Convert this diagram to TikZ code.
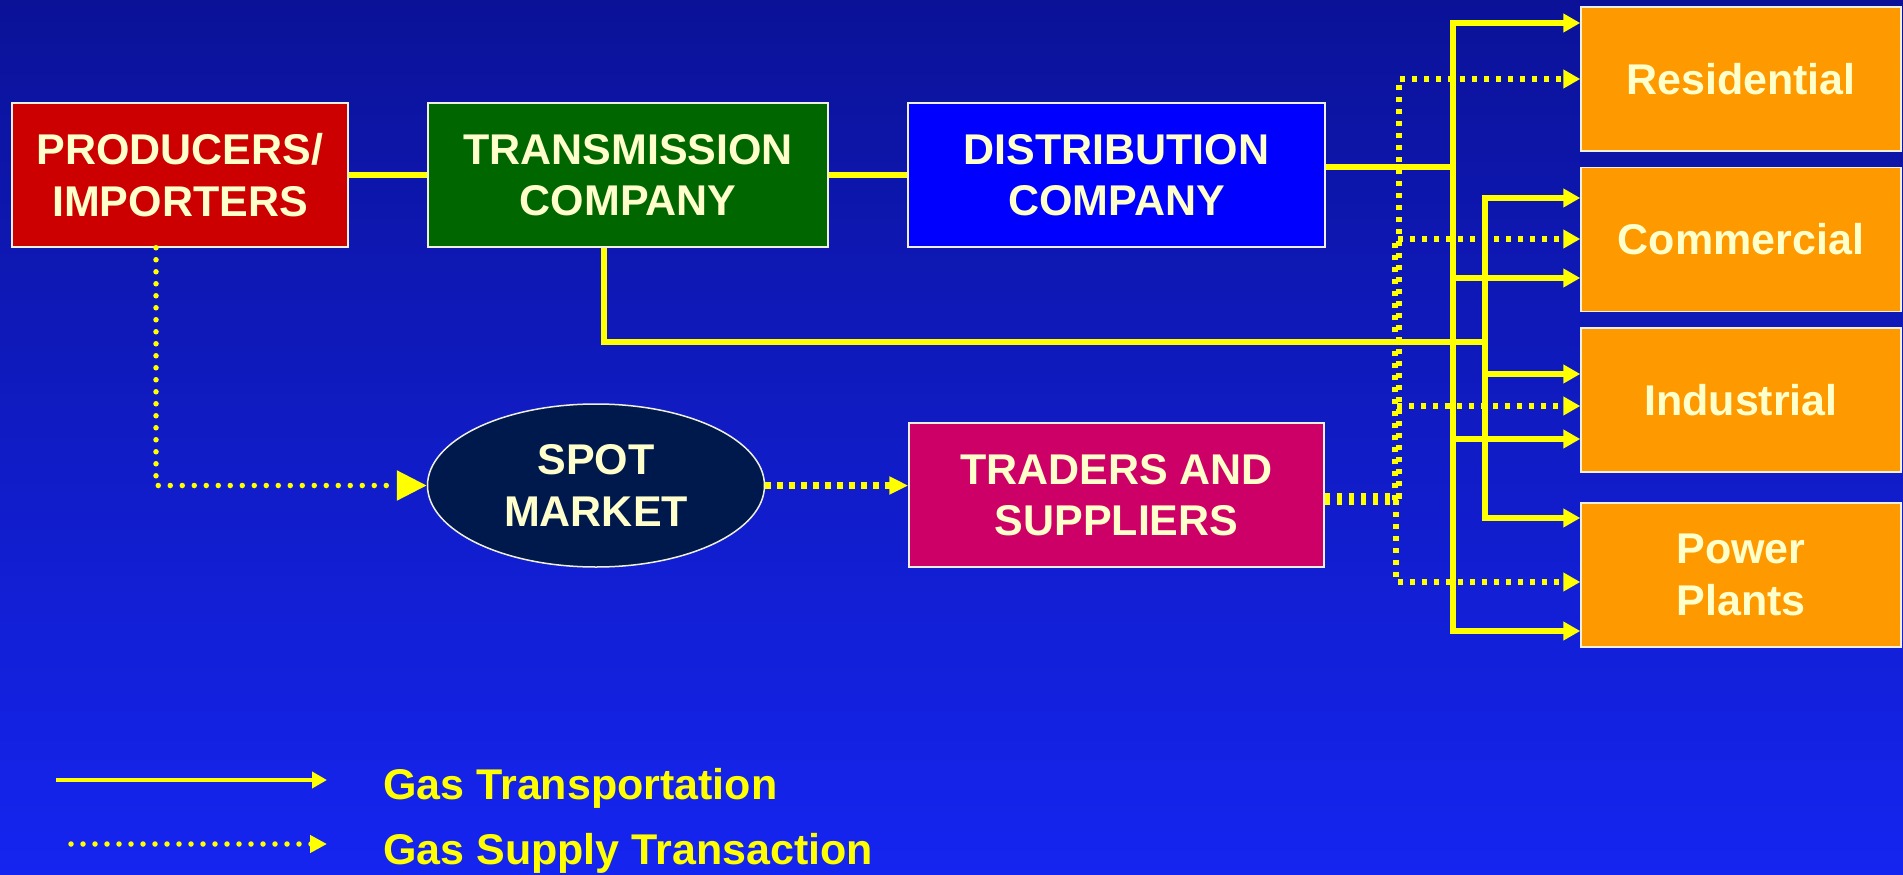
\documentclass[tikz,border=0pt]{standalone}
\usepackage{fontspec}
\setmainfont{Liberation Sans}
\usetikzlibrary{arrows.meta,shapes.geometric}

\definecolor{bgtop}{RGB}{11,18,152}
\definecolor{bgbot}{RGB}{21,37,240}
\definecolor{gasyellow}{RGB}{255,255,0}
\definecolor{cream}{RGB}{255,255,204}
\definecolor{rimline}{RGB}{240,240,225}
\definecolor{prodred}{RGB}{204,0,0}
\definecolor{transgreen}{RGB}{0,102,0}
\definecolor{distblue}{RGB}{0,0,255}
\definecolor{tradepink}{RGB}{204,0,102}
\definecolor{spotnavy}{RGB}{0,25,76}
\definecolor{useorange}{RGB}{255,153,0}

\tikzset{
  lbl/.style={font=\bfseries\fontsize{43pt}{51.5pt}\selectfont},
  box/.style={lbl, draw=rimline, line width=1.5pt, text=cream, align=center,
              inner sep=0pt, minimum height=144pt},
  enduse/.style={box, fill=useorange, minimum width=320pt},
  gasline/.style={draw=gasyellow, line width=5.5pt},
  gas/.style={gasline, -{Triangle[length=17pt,width=18pt]}},
  squaredots/.style={draw=gasyellow, line width=6pt, dash pattern=on 5.5pt off 6.5pt},
  supply/.style={squaredots, -{Triangle[length=17pt,width=18pt]}},
  rounddots/.style={draw=gasyellow, line width=5.5pt, line cap=round,
                    dash pattern=on 0pt off 12pt},
}

\begin{document}
\begin{tikzpicture}[x=1pt,y=-1pt]
  \useasboundingbox (0,0) rectangle (1903,875);
  \shade[top color=bgtop, bottom color=bgbot] (0,0) rectangle (1903,875);

  % market participants
  \node[box, fill=prodred, minimum width=336pt] (prod) at (180,175) {PRODUCERS/\\IMPORTERS};
  \node[box, fill=transgreen, minimum width=400pt] (trans) at (628,175) {TRANSMISSION\\COMPANY};
  \node[box, fill=distblue, minimum width=417pt] (dist) at (1116.5,175) {DISTRIBUTION\\COMPANY};
  \node[box, fill=tradepink, minimum width=415pt] (trad) at (1116.5,495) {TRADERS AND\\SUPPLIERS};
  \node[lbl, ellipse, draw=rimline, line width=1.5pt, fill=spotnavy, text=cream,
        align=center, inner sep=0pt, minimum width=337pt, minimum height=163pt]
        (spot) at (596,485.5) {SPOT\\MARKET};

  % end users
  \node[enduse] (res) at (1741,79) {Residential};
  \node[enduse] (com) at (1741,239.5) {Commercial};
  \node[enduse] (ind) at (1741,400) {Industrial};
  \node[enduse] (pow) at (1741,575) {Power\\Plants};

  % physical gas flow along the pipeline chain
  \draw[gasline] (prod.east) -- (trans.west);
  \draw[gasline] (trans.east) -- (dist.west);

  % distribution company feeding every customer class
  \draw[gas] ([yshift=8pt]dist.east) -- (1453,167) -- (1453,23) -- (res.west |- 0,23);
  \draw[gas] ([yshift=8pt]dist.east) -- (1453,167) -- (1453,278) -- (com.west |- 0,278);
  \draw[gas] ([yshift=8pt]dist.east) -- (1453,167) -- (1453,439) -- (ind.west |- 0,439);
  \draw[gas] ([yshift=8pt]dist.east) -- (1453,167) -- (1453,631) -- (pow.west |- 0,631);

  % direct connections from the transmission grid
  \draw[gas] ([xshift=-24pt]trans.south) -- (604,342) -- (1485,342) -- (1485,198) -- (com.west |- 0,198);
  \draw[gas] ([xshift=-24pt]trans.south) -- (604,342) -- (1485,342) -- (1485,374) -- (ind.west |- 0,374);
  \draw[gas] ([xshift=-24pt]trans.south) -- (604,342) -- (1485,342) -- (1485,518) -- (pow.west |- 0,518);

  % supply transactions
  \draw[rounddots, -{Triangle[length=30pt,width=29pt]}] ([xshift=-24pt]prod.south) |- (spot.west);
  \draw[squaredots, line width=7pt, dash pattern=on 6pt off 6pt,
        -{Triangle[length=19pt,width=17pt]}] (spot.east) -- (trad.west |- spot.east);

  \draw[supply] ([yshift=-1pt]trad.east) -- (1399,496) -- (1399,79) -- (res.west |- 0,79);
  \draw[supply] ([yshift=-7pt]trad.east) -- (1395,502) -- (1395,239) -- (com.west |- 0,239);
  \draw[supply] ([yshift=-7pt]trad.east) -- (1395,502) -- (1395,406) -- (ind.west |- 0,406);
  \draw[supply] ([yshift=-4pt]trad.east) -- (1396,499) -- (1396,582) -- (pow.west |- 0,582);

  % legend
  \coordinate (gtA) at (56,780);
  \coordinate (gtB) at (327,780);
  \coordinate (gsA) at (71,844);
  \coordinate (gsB) at (327,844);
  \draw[gasline, line width=4pt, -{Triangle[length=15pt,width=16pt]}] (gtA) -- (gtB);
  \draw[rounddots, -{Triangle[length=17pt,width=17pt]}] (gsA) -- (gsB);
  \node[lbl, text=gasyellow, anchor=base west, inner sep=0pt] (legT) at (383,799) {Gas Transportation};
  \node[lbl, text=gasyellow, anchor=base west, inner sep=0pt] (legS) at (383,864) {Gas Supply Transaction};
\end{tikzpicture}
\end{document}
